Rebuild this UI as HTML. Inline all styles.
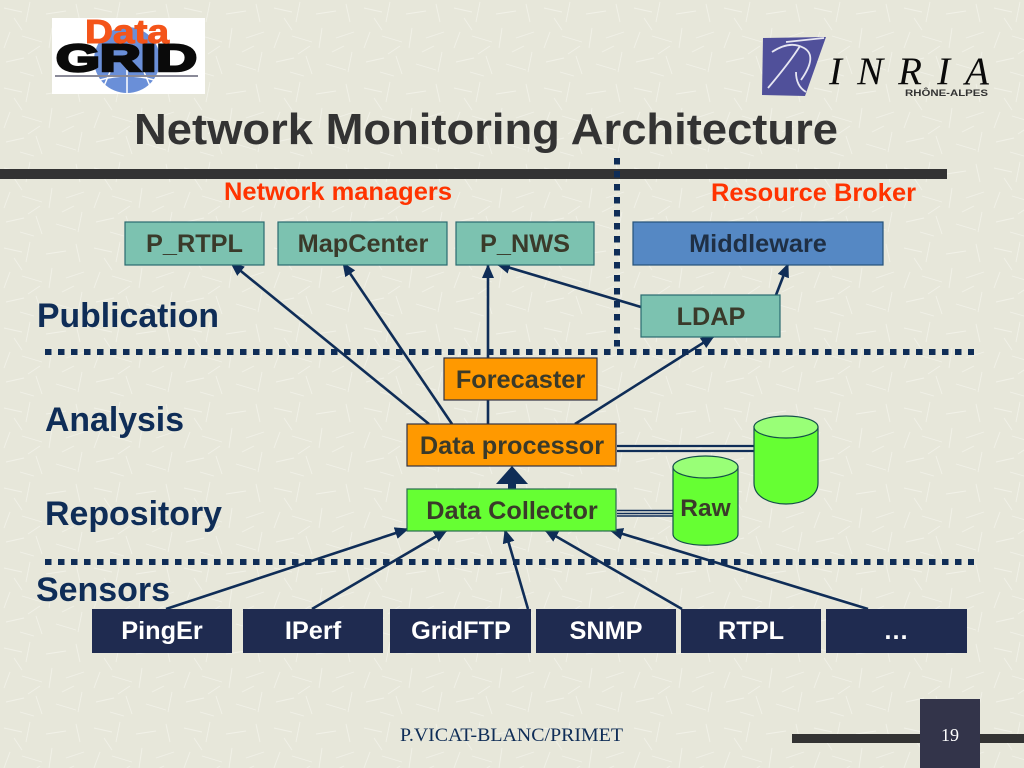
<!DOCTYPE html>
<html><head><meta charset="utf-8"><style>
html,body{margin:0;padding:0;background:#e8e8dc;width:1024px;height:768px;overflow:hidden}
svg{display:block}
text{font-family:"Liberation Sans",sans-serif;font-weight:bold}
.b{fill:#3a3a2a;font-size:25.300px;text-anchor:middle}
.h{fill:#0f2d57;font-size:33.800px}
.s{fill:#fff;font-size:25.300px;text-anchor:middle}
.r{fill:#ff3300;font-size:25px}
.l{stroke:#0f2d57;stroke-width:2.6;fill:none}
.m{fill:#7cc2b0;stroke:#2a6a70;stroke-width:1.2}
</style></head><body>
<svg width="1024" height="768" viewBox="0 0 1024 768" xmlns="http://www.w3.org/2000/svg">
<defs>
<pattern id="tx" width="90" height="80" patternUnits="userSpaceOnUse">
<g stroke="#f1f1e8" stroke-width=".9">
<path d="M4 8l18 4M30 2l-4 20M46 14l20-3M76 4l4 18M10 32l-6 16M22 36l20 6M52 28l-3 20M66 38l18-6M6 62l18-4M36 56l6 18M56 64l20 6M82 52l-4 20M14 18l8 12M40 46l-12 8M62 52l12-6M20 72l14 4"/>
</g>
</pattern>
<marker id="a" markerWidth="16" markerHeight="12" refX="13" refY="6" orient="auto" markerUnits="userSpaceOnUse"><path d="M0 0L14 6L0 12z" fill="#0f2d57"/></marker>
</defs>
<rect width="1024" height="768" fill="#e7e7da"/>
<rect width="1024" height="768" fill="url(#tx)"/>

<!-- DataGrid logo -->
<rect x="52" y="18" width="153" height="76" fill="#fff"/>
<circle cx="127" cy="60" r="33" fill="#6a8fd8"/>
<g stroke="#fff" stroke-width="1.5" fill="none"><path d="M100 80q27 -8 54 0M127 70v24M110 72l-6 14M144 72l6 14"/></g>
<rect x="55" y="75" width="143" height="2" fill="#8a8a98"/>
<text x="56" y="71" textLength="141" lengthAdjust="spacingAndGlyphs" fill="#0a0a0a" stroke="#0a0a0a" stroke-width="2.500" style="font-size:38px">GRID</text>
<text x="85" y="43" fill="#f4551a" stroke="#f4551a" stroke-width="1" textLength="84" lengthAdjust="spacingAndGlyphs" style="font-size:33px">Data</text>

<!-- INRIA logo -->
<path d="M763 38L826 37L805 96L762 95z" fill="#50509a"/>
<path d="M772 52q18-12 32-4t-3 32M800 46q-10 16-32 42M796 72q0 14 10 20M786 42l38-4" stroke="#e6e6f2" stroke-width="1.8" fill="none"/>
<text x="829" y="84" textLength="160" lengthAdjust="spacing" fill="#0a0a0a" style="font-family:'Liberation Serif',serif;font-style:italic;font-weight:normal;font-size:39px">INRIA</text>
<text x="905" y="96" textLength="83" lengthAdjust="spacingAndGlyphs" fill="#333" style="font-size:9px">RHÔNE-ALPES</text>

<!-- Title -->
<text x="134" y="144" fill="#333333" style="font-size:44px" textLength="704" lengthAdjust="spacingAndGlyphs">Network Monitoring Architecture</text>
<rect x="0" y="169" width="947" height="10" fill="#333333"/>
<text class="r" x="224" y="200" textLength="228" lengthAdjust="spacingAndGlyphs">Network managers</text>
<text class="r" x="711" y="201" textLength="205" lengthAdjust="spacingAndGlyphs">Resource Broker</text>

<!-- dotted lines -->
<path d="M617 158V350" stroke="#0f2d57" stroke-width="6" stroke-dasharray="6.5 6.5" fill="none"/>
<path d="M45 352H974" stroke="#0f2d57" stroke-width="6" stroke-dasharray="6.5 6.5" fill="none"/>
<path d="M45 562H974" stroke="#0f2d57" stroke-width="6" stroke-dasharray="6.5 6.5" fill="none"/>

<!-- arrows top -->
<path class="l" d="M429 424L231 263" marker-end="url(#a)"/>
<path class="l" d="M452 424L343 263" marker-end="url(#a)"/>
<path class="l" d="M488 424V265" marker-end="url(#a)"/>
<path class="l" d="M575 424L714 336" marker-end="url(#a)"/>
<path class="l" d="M641 307L497 264" marker-end="url(#a)"/>
<path class="l" d="M776 295L788 264" marker-end="url(#a)"/>
<!-- arrows bottom -->
<path class="l" d="M166 609L408 529" marker-end="url(#a)"/>
<path class="l" d="M312 609L447 530" marker-end="url(#a)"/>
<path class="l" d="M528 609L505 530" marker-end="url(#a)"/>
<path class="l" d="M682 609L545 530" marker-end="url(#a)"/>
<path class="l" d="M868 609L610 530" marker-end="url(#a)"/>

<!-- top boxes -->
<rect class="m" x="125" y="222" width="139" height="43"/><text class="b" x="194.500" y="252">P_RTPL</text>
<rect class="m" x="278" y="222" width="169" height="43"/><text class="b" x="363" y="252">MapCenter</text>
<rect class="m" x="456" y="222" width="138" height="43"/><text class="b" x="525" y="252">P_NWS</text>
<rect x="633" y="222" width="250" height="43" fill="#5588c4" stroke="#24527a" stroke-width="1.2"/><text class="b" x="758" y="252" style="fill:#1f2f44">Middleware</text>
<rect class="m" x="641" y="295" width="139" height="42"/><text class="b" x="711" y="325">LDAP</text>

<!-- section labels -->
<text class="h" x="37" y="327" textLength="182" lengthAdjust="spacingAndGlyphs">Publication</text>
<text class="h" x="45" y="431" textLength="139" lengthAdjust="spacingAndGlyphs">Analysis</text>
<text class="h" x="45" y="525" textLength="177" lengthAdjust="spacingAndGlyphs">Repository</text>
<text class="h" x="36" y="601" textLength="134" lengthAdjust="spacingAndGlyphs">Sensors</text>

<!-- centre -->
<rect x="444" y="358" width="153" height="42" fill="#ff9900" stroke="#334" stroke-width="1.2"/><text class="b" x="520.500" y="388">Forecaster</text>
<rect x="407" y="424" width="209" height="42" fill="#ff9900" stroke="#334" stroke-width="1.2"/><text class="b" x="512" y="454">Data processor</text>
<rect x="508" y="482" width="8" height="8" fill="#0f2d57"/>
<path d="M512 466L528 484H496z" fill="#0f2d57"/>
<rect x="407" y="489" width="209" height="42" fill="#66ff33" stroke="#2a6a50" stroke-width="1.2"/><text class="b" x="512" y="519">Data Collector</text>

<!-- double lines -->
<path d="M617 446H754M617 451H754" stroke="#0f2d57" stroke-width="2.300"/>
<path d="M617 510.500H673M617 513.500H673M617 516H673" stroke="#0f2d57" stroke-width="1.500"/>

<!-- cylinders -->
<path d="M754 427V483C754 511 818 511 818 483V427z" fill="#66ff33" stroke="#14504a" stroke-width="1.2"/>
<ellipse cx="786" cy="427" rx="32" ry="11" fill="#99ff77" stroke="#14504a" stroke-width="1.2"/>
<path d="M673 467V534C673 549 738 549 738 534V467z" fill="#66ff33" stroke="#14504a" stroke-width="1.2"/>
<ellipse cx="705.500" cy="467" rx="32.500" ry="11" fill="#99ff77" stroke="#14504a" stroke-width="1.2"/>
<text class="b" x="705.500" y="516" style="font-size:24.500px">Raw</text>

<!-- sensors -->
<g fill="#1f2b50">
<rect x="92" y="609" width="140" height="44"/>
<rect x="243" y="609" width="140" height="44"/>
<rect x="390" y="609" width="141" height="44"/>
<rect x="536" y="609" width="140" height="44"/>
<rect x="681" y="609" width="140" height="44"/>
<rect x="826" y="609" width="141" height="44"/>
</g>
<text class="s" x="162" y="639">PingEr</text>
<text class="s" x="313" y="639">IPerf</text>
<text class="s" x="461" y="639">GridFTP</text>
<text class="s" x="606" y="639">SNMP</text>
<text class="s" x="751" y="639">RTPL</text>
<text class="s" x="896" y="639">…</text>

<!-- footer -->
<rect x="792" y="734" width="232" height="9" fill="#333333"/>
<rect x="920" y="699" width="60" height="69" fill="#33344a"/>
<text x="400" y="741" textLength="223" lengthAdjust="spacingAndGlyphs" style="font-family:'Liberation Serif',serif;font-weight:normal;font-size:19px" fill="#0f2d57">P.VICAT-BLANC/PRIMET</text>
<text x="950" y="741" text-anchor="middle" style="font-family:'Liberation Serif',serif;font-weight:normal;font-size:18px" fill="#ffffff">19</text>
</svg>
</body></html>
